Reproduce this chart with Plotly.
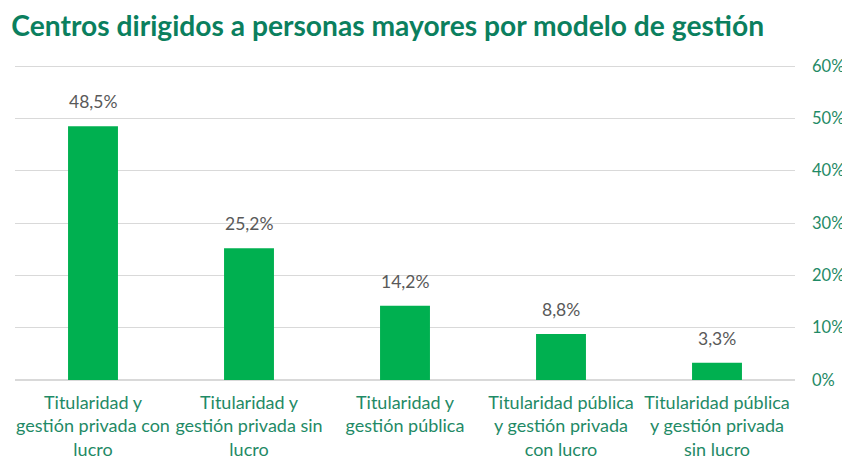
import plotly.graph_objects as go

categories = [
    "Titularidad y<br>gestión privada con<br>lucro",
    "Titularidad y<br>gestión privada sin<br>lucro",
    "Titularidad y<br>gestión pública",
    "Titularidad pública<br>y gestión privada<br>con lucro",
    "Titularidad pública<br>y gestión privada<br>sin lucro",
]
values = [48.5, 25.2, 14.2, 8.8, 3.3]
value_labels = ["48,5%", "25,2%", "14,2%", "8,8%", "3,3%"]
tick_vals = [0, 10, 20, 30, 40, 50, 60]
tick_text = ["0%", "10%", "20%", "30%", "40%", "50%", "60%"]

fig = go.Figure(go.Bar(
    x=categories, y=values,
    marker=dict(color="#00B050", line=dict(width=0)),
    width=0.32,
))
for c, v, t in zip(categories, values, value_labels):
    fig.add_annotation(x=c, y=v, text=t, showarrow=False, yanchor="bottom", yshift=12,
                       font=dict(family="Lato", size=17.5, color="#595959"))

# page body has an 8px margin: size the figure so it fits the 850x464 window
fig.update_layout(
    width=842, height=456,
    margin=dict(l=7, r=55, t=57, b=84, autoexpand=False),
    paper_bgcolor="white", plot_bgcolor="white",
    title=dict(text="<b>Centros dirigidos a personas mayores por modelo de gestión</b>",
               x=0.004, xanchor="left", y=0.9605, yanchor="middle",
               font=dict(family="Lato", size=28.2, color="#0B7F5E")),
    showlegend=False,
    xaxis=dict(tickfont=dict(family="Lato", size=18, color="#1F8A66"),
               showgrid=False, showline=False, ticks="", automargin=False,
               tickangle=0, ticklabelstandoff=10),
    yaxis=dict(side="right", range=[0, 60.2], tickvals=tick_vals, ticktext=tick_text,
               tickfont=dict(family="Lato", size=16.5, color="#1F8A66"),
               gridcolor="#D9D9D9", gridwidth=1, zeroline=True, zerolinecolor="#D9D9D9",
               showline=False, ticks="", automargin=False, ticklabelstandoff=16),
)
fig.write_html("out.html")
